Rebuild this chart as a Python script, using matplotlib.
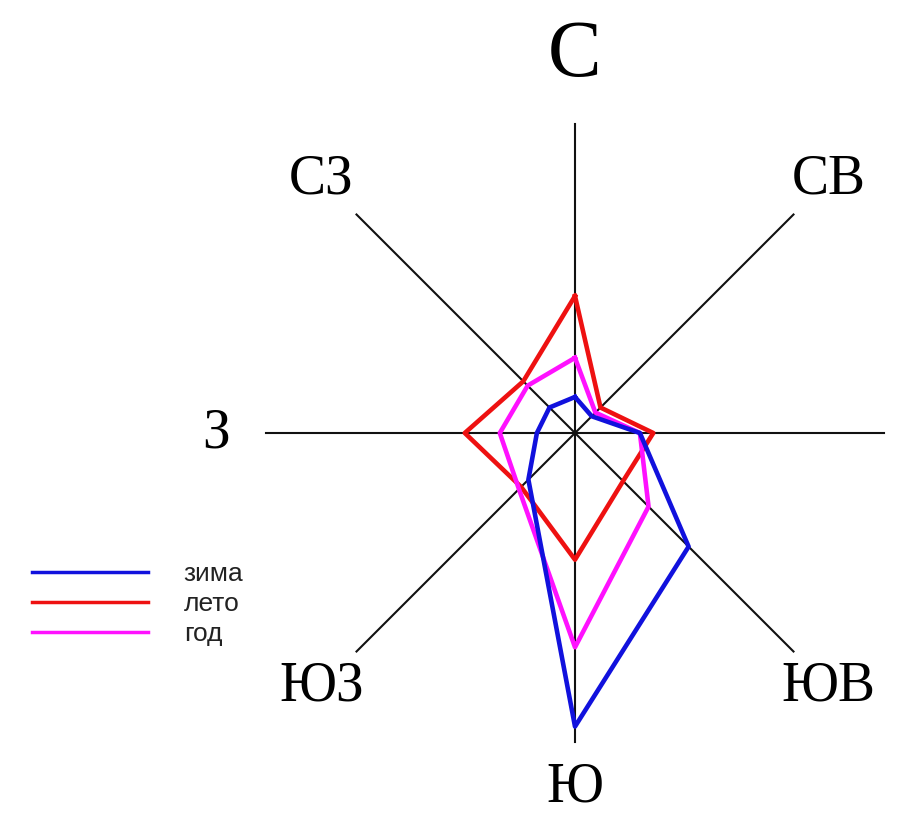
import numpy as np
import matplotlib.pyplot as plt

# направления (по часовой, от севера); у В подписи на схеме нет
directions = ['С', 'СВ', '', 'ЮВ', 'Ю', 'ЮЗ', 'З', 'СЗ']
winter = [3.5, 2.3, 6.3, 15.6, 28.5, 6.4, 3.7, 3.5]    # зима
summer = [13.3, 3.5, 7.6, 6.6, 12.3, 7.4, 10.7, 7.1]   # лето
year = [7.3, 2.8, 6.3, 10.1, 20.8, 7.7, 7.3, 6.5]      # год
series_names = ['зима', 'лето', 'год']

R = 30  # длина осей

angles = np.deg2rad(np.arange(len(directions)) * 45)


def to_xy(vals):
    vals = np.array(list(vals) + [vals[0]])
    a = np.append(angles, angles[0])
    return vals * np.sin(a), vals * np.cos(a)


fig = plt.figure(figsize=(9.08, 8.15), dpi=100)
ax = fig.add_axes([0, 0, 1, 1])
ax.set_xlim(-575 / 10.3, 333 / 10.3)
ax.set_ylim(-382 / 10.3, 433 / 10.3)
ax.set_aspect('equal')
ax.axis('off')

# оси
for a in angles:
    ax.plot([0, R * np.sin(a)], [0, R * np.cos(a)], color='#111111', lw=1.5, zorder=1)

# подписи направлений
for name, a in zip(directions, angles):
    if name == '':
        continue
    if name == 'С':
        ax.text(0, 36.6, name, fontsize=58, family='Liberation Serif',
                ha='center', va='center')
    elif name == 'Ю':
        ax.text(0, -34.4, name, fontsize=40, family='Liberation Serif',
                ha='center', va='center')
    else:
        rr = 34.8
        ax.text(rr * np.sin(a), rr * np.cos(a), name, fontsize=40,
                family='Liberation Serif', ha='center', va='center')

x, y = to_xy(summer)
l_summer, = ax.plot(x, y, color='#ee1111', lw=3.3, zorder=3)
x, y = to_xy(year)
l_year, = ax.plot(x, y, color='#ff11ff', lw=3.3, zorder=4)
x, y = to_xy(winter)
l_winter, = ax.plot(x, y, color='#1111dd', lw=3.3, zorder=5)

leg = fig.legend([l_winter, l_summer, l_year], series_names,
                 loc='center left', bbox_to_anchor=(32 / 908, (815 - 604) / 815),
                 frameon=False, borderpad=0, borderaxespad=0,
                 handlelength=4.4, handletextpad=1.35, labelspacing=0.22,
                 prop={'family': 'Liberation Sans', 'size': 19})
for h in leg.get_lines():
    h.set_linewidth(2.5)
for t in leg.get_texts():
    t.set_color('#222222')

fig.savefig('out.png', dpi=100)
